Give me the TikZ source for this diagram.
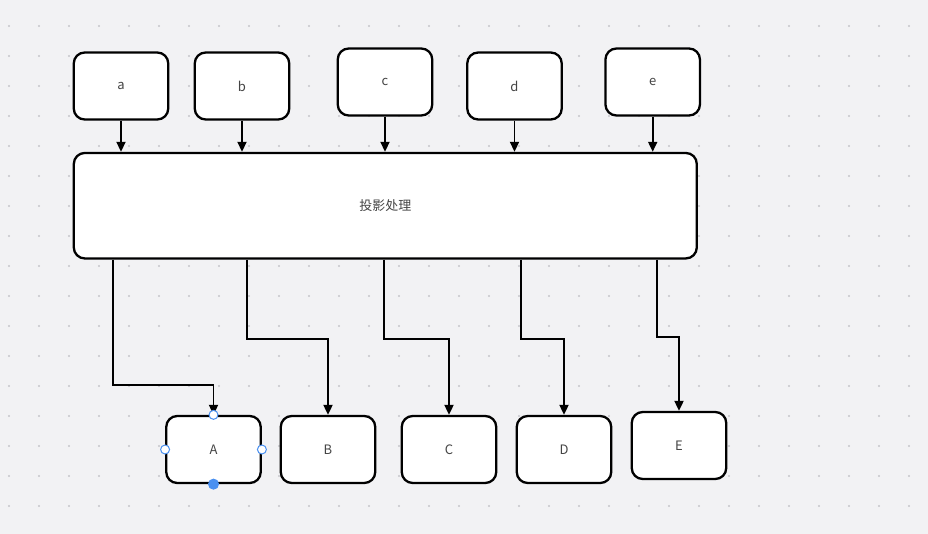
\documentclass[tikz,border=0pt]{standalone}
\usepackage{fontspec}
\setmainfont{Noto Sans CJK SC}
\usepackage{tikz}
\usetikzlibrary{arrows.meta, positioning}
\definecolor{bgcolor}{RGB}{242,242,244}
\definecolor{dotcolor}{RGB}{198,198,202}
\definecolor{txtcolor}{RGB}{68,68,68}
\definecolor{selcolor}{RGB}{74,144,240}

\begin{document}
\begin{tikzpicture}[
    x=1pt, y=-1pt,
    >={Triangle[length=10pt, width=9pt]},
    box/.style={draw, line width=2.3pt, rounded corners=11pt, fill=white, minimum width=94.5pt, minimum height=67pt, text=txtcolor, font=\fontsize{13}{15}\selectfont},
    bigbox/.style={box, minimum width=623pt, minimum height=105.5pt},
    conn/.style={->, line width=1.9pt},
    handle/.style={circle, draw=selcolor, line width=1pt, fill=white, inner sep=0pt, minimum size=9pt},
]
    \useasboundingbox (0,0) rectangle (928,534);
    \fill[bgcolor] (0,0) rectangle (928,534);
    % dot grid
    \foreach \i in {0,...,30}
        \foreach \j in {0,...,16}
            \fill[dotcolor] ({9+30*\i},{26+30*\j}) circle (1.1pt);

    % inputs
    \node[box] (a) at (121,86) {a};
    \node[box] (b) at (242,86) {b};
    \node[box] (c) at (385,82) {c};
    \node[box] (d) at (514.5,86) {d};
    \node[box] (e) at (652.7,82) {e};

    \node[bigbox] (proj) at (385.3,205.7) {投影处理};

    % outputs
    \node[box] (A) at (213.5,449.5) {A};
    \node[box] (B) at (328,449.5) {B};
    \node[box] (C) at (449,449.5) {C};
    \node[box] (D) at (564,449.5) {D};
    \node[box] (E) at (679,445.5) {E};

    \foreach \n in {a,b,c,d,e}
        \draw[conn] (\n.south) -- (\n.south |- proj.north);

    \draw[conn] ([xshift=40.5pt]proj.south west) -- ++(0,125.5) -| (A.north);
    \draw[conn] ([xshift=174.5pt]proj.south west) -- ++(0,79.3) -| (B.north);
    \draw[conn] ([xshift=311.2pt]proj.south west) -- ++(0,79.3) -| (C.north);
    \draw[conn] ([xshift=448.5pt]proj.south west) -- ++(0,79.3) -| (D.north);
    \draw[conn] ([xshift=584.5pt]proj.south west) -- ++(0,77.3) -| (E.north);

    % selection handles on A
    \node[handle] (hn) at (A.north) {};
    \node[handle] (hw) at (A.west) {};
    \node[handle] (he) at (A.east) {};
    \node[handle, fill=selcolor, minimum size=10pt] (hs) at (A.south) {};
\end{tikzpicture}
\end{document}
